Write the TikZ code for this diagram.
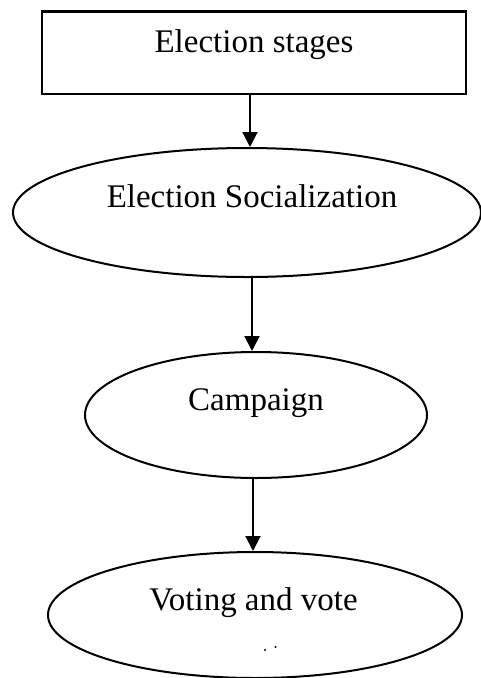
\documentclass[tikz,border=0pt]{standalone}
\usepackage{fontspec}
\setmainfont{Liberation Serif}
\usetikzlibrary{shapes.geometric,arrows.meta}
\begin{document}
\begin{tikzpicture}[x=1pt,y=-1pt,
  boxshape/.style={draw,line width=2.6pt,rectangle,inner sep=0pt},
  ell/.style={draw,line width=2pt,ellipse,inner sep=0pt},
  lbl/.style={anchor=base,inner sep=0pt,font=\fontsize{33}{38}\selectfont},
  arr/.style={line width=2pt,-{Triangle[length=15pt,width=15pt]}}]
\useasboundingbox (0,0) rectangle (481,678);
\node[boxshape,minimum width=424pt,minimum height=82.5pt] (box) at (254,52.75) {};
\node[ell,minimum width=468pt,minimum height=129pt] (e1) at (247,212.5) {};
\node[ell,minimum width=342pt,minimum height=126pt] (e2) at (256,415) {};
\node[ell,minimum width=414pt,minimum height=126pt] (e3) at (255,615) {};
\node[lbl] (t0) at (254,52) {Election stages};
\node[lbl] (t1) at (252,207) {Election Socialization};
\node[lbl] (t2) at (256,410) {Campaign};
\node[lbl] (t3) at (253.5,610) {Voting and vote};
\fill (265,650) circle (1.1pt);
\fill (275.5,647) circle (1.1pt);
\draw[arr] ([xshift=-4pt]box.south) -- ([xshift=-4pt]box.south |- e1.north);
\draw[arr] ([xshift=5pt]e1.south) -- ([xshift=5pt]e1.south |- e2.north);
\draw[arr] ([xshift=-3pt]e2.south) -- ([xshift=-3pt]e2.south |- e3.north);
\end{tikzpicture}
\end{document}
